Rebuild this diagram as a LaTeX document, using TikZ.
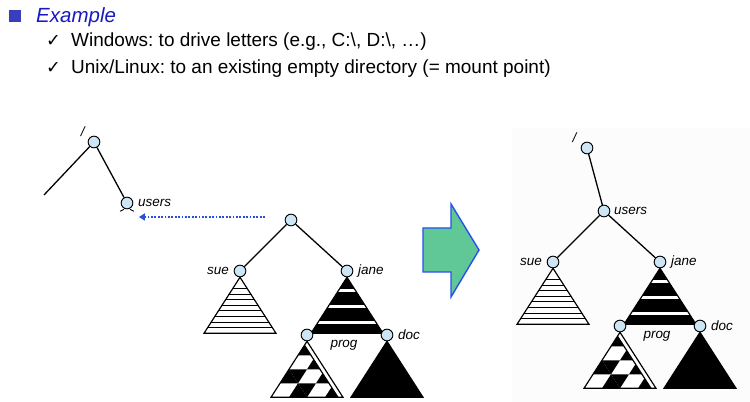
\documentclass[tikz,border=0pt]{standalone}
\usepackage{fontspec}
\setmainfont{Liberation Sans}
\newfontfamily\symfont{DejaVu Sans}
\usetikzlibrary{positioning,calc,backgrounds,arrows.meta}
\frenchspacing

\definecolor{nodeblue}{RGB}{205,230,245}
\definecolor{titleblue}{RGB}{25,25,190}
\definecolor{bulletblue}{RGB}{60,60,190}
\definecolor{mountblue}{RGB}{40,80,220}
\definecolor{arrowgreen}{RGB}{95,200,150}
\definecolor{arrowedge}{RGB}{40,80,235}

% triangles, drawn from their apex (units of the picture)
\newcommand{\stripetri}[1]{%
  \begin{scope}[shift={(#1)}]
    \fill[white] (0,0) -- (-36,56) -- (36,56) -- cycle;
    \begin{scope}
      \clip (0,0) -- (-36,56) -- (36,56) -- cycle;
      \foreach \k in {2,...,9} \draw[line width=0.9pt] (-40,5.6*\k) -- (40,5.6*\k);
    \end{scope}
    \draw[tri] (0,0) -- (-36,56) -- (36,56) -- cycle;
  \end{scope}}
\newcommand{\bandtri}[1]{%
  \begin{scope}[shift={(#1)}]
    \fill (0,0) -- (-36,56) -- (36,56) -- cycle;
    \begin{scope}
      \clip (0,0) -- (-36,56) -- (36,56) -- cycle;
      \foreach \y in {13,29,45} \draw[white, line width=2.4pt] (-40,\y) -- (40,\y);
    \end{scope}
    \draw[tri] (0,0) -- (-36,56) -- (36,56) -- cycle;
  \end{scope}}
\newcommand{\checktri}[1]{%
  \begin{scope}[shift={(#1)}]
    \fill[white] (0,0) -- (-36,56) -- (36,56) -- cycle;
    \begin{scope}
      \clip (0,0) -- (-36,56) -- (36,56) -- cycle;
      \foreach \r/\j in {0/0, 1/1, 2/0, 2/2, 3/1, 3/3}
        \fill (-9*\r+18*\j,14*\r) -- ++(-9,14) -- ++(18,0) -- cycle;
      \foreach \r/\j in {2/0, 3/1}
        \fill (-9*\r+18*\j,14*\r) -- ++(18,0) -- ++(-9,14) -- cycle;
      \fill[white] (0,0) -- (36,56) -- (31,56) -- (-2.5,3.9) -- cycle;
    \end{scope}
    \draw[tri] (-2.5,3.9) -- (31,56);
    \draw[tri] (0,0) -- (-36,56) -- (36,56) -- cycle;
  \end{scope}}
\newcommand{\solidtri}[1]{\filldraw[tri, shift={(#1)}] (0,0) -- (-36,56) -- (36,56) -- cycle;}

\begin{document}
\begin{tikzpicture}[x=0.03cm, y=-0.03cm,
    dirnode/.style={circle, draw, fill=nodeblue, line width=0.8pt, minimum size=0.35cm, inner sep=0pt},
    lbl/.style={font=\fontsize{11.5}{13}\selectfont\itshape, inner sep=0pt},
    edge/.style={line width=1.1pt},
    tri/.style={line width=1pt, line join=miter},
    mount/.style={mountblue, line width=2pt, dash pattern=on 1.6pt off 1.3pt, -{Triangle[length=5pt,width=6pt]}},
    bigarrow/.style={fill=arrowgreen, draw=arrowedge, line width=1.2pt, line join=miter},
    bullet/.style={rectangle, fill=bulletblue, minimum size=0.36cm, inner sep=0pt},
    item/.style={font=\fontsize{16.2}{19}\selectfont, anchor=base west, inner sep=0pt},
    chk/.style={font=\symfont\fontsize{15}{17}\selectfont, anchor=base west, inner sep=0pt}
]
\useasboundingbox (0,0) rectangle (750,402);

% Header
\node[bullet] (bul) at (15,16) {};
\node[item, font=\fontsize{17.5}{20}\selectfont\itshape, text=titleblue] (example) at (36,23) {Example};
\node[chk] (chk1) at (46,47) {✓};
\node[item] (win) at (71,47) {Windows: to drive letters (e.g., C:\textbackslash, D:\textbackslash, …)};
\node[chk] (chk2) at (46,74) {✓};
\node[item] (unix) at (71,74) {Unix/Linux: to an existing empty directory (= mount point)};

% faint panel behind the mounted tree
\begin{scope}[on background layer]
\fill[black!1] (512,128) rectangle (750,402);
\end{scope}

% === Existing tree (left) ===
\node[dirnode] (rootL) at (94,142) {};
\node[lbl, above left=1pt and 4pt of rootL] {/};
\node[dirnode] (usersL) at (127,203) {};
\node[lbl, right=4pt of usersL] {users};
\coordinate (cutL) at (44,195);
\draw[edge] (rootL) -- (cutL);
\draw[edge] (rootL) -- (usersL);
\draw[line width=0.8pt] ($(usersL.south)+(-7,2)$) -- ($(usersL.south)+(-3,0)$);
\draw[line width=0.8pt] ($(usersL.south)+(7,2)$) -- ($(usersL.south)+(3,0)$);

% === Mounted tree (right) ===
\node[dirnode] (rootR) at (587,148) {};
\node[lbl, above left=1pt and 5pt of rootR] {/};

% === Volume subtrees ===
\foreach \s/\px/\py in {L/291/220, R/604/211} {
  \node[dirnode] (sub\s) at (\px,\py) {};
  \node[dirnode] (sue\s) at ($(sub\s)+(-51,51)$) {};
  \node[dirnode] (jane\s) at ($(sub\s)+(56,51)$) {};
  \node[dirnode] (prog\s) at ($(jane\s)+(-40,64)$) {};
  \node[dirnode] (doc\s) at ($(jane\s)+(40,64)$) {};
  \node[lbl, left=4pt of sue\s] {sue};
  \node[lbl, right=4pt of jane\s] {jane};
  \node[lbl] at ($(prog\s)+(37,10)$) {prog};
  \node[lbl, right=4pt of doc\s] {doc};
  \draw[edge] (sub\s) -- (sue\s);
  \draw[edge] (sub\s) -- (jane\s);
}
\node[lbl, right=3pt of subR] {users};
\draw[edge] (rootR) -- (subR);

\begin{scope}[on background layer]
\foreach \s in {L,R} {
  \stripetri{sue\s.south}
  \bandtri{jane\s.south}
  \checktri{prog\s.south}
  \solidtri{doc\s.south}
}
\end{scope}

% Mount arrow
\coordinate (mntfrom) at (265,217);
\coordinate (mntto) at (139,217);
\draw[mount] (mntfrom) -- (mntto);

% Big arrow
\draw[bigarrow] (423,228) -- (451,228) -- (451,204) -- (479,250) -- (451,297) -- (451,272) -- (423,272) -- cycle;

\end{tikzpicture}
\end{document}
